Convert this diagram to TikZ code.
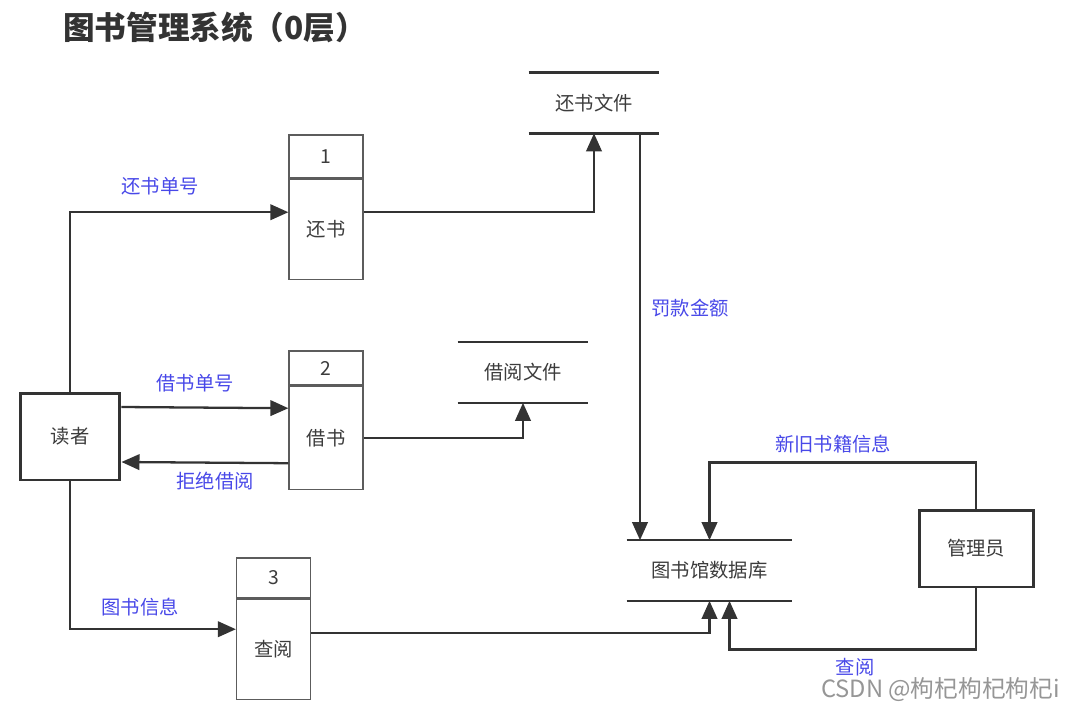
\documentclass[tikz,border=0pt]{standalone}
\usepackage{fontspec}
\setmainfont{Noto Sans CJK SC}
\usetikzlibrary{arrows.meta, positioning, calc}
\definecolor{linegray}{RGB}{51, 51, 51}
\definecolor{textgray}{RGB}{60, 60, 60}
\definecolor{labelblue}{RGB}{72, 72, 232}
\definecolor{markgray}{RGB}{150, 150, 150}

\begin{document}
\begin{tikzpicture}[
    x=0.02cm, y=-0.02cm,
    entitybox/.style={draw=linegray, line width=1.7pt, fill=white, minimum width=2.0cm, minimum height=1.74cm, font=\fontsize{11}{13}\selectfont, text=textgray},
    procnum/.style={draw=linegray!80, line width=0.7pt, minimum width=1.48cm, font=\fontsize{11}{13}\selectfont, text=textgray, inner sep=0pt},
    procbox/.style={draw=linegray!80, line width=0.7pt, minimum width=1.48cm, minimum height=2.0cm, font=\fontsize{11}{13}\selectfont, text=textgray, inner sep=0pt},
    storebox/.style={minimum height=1.2cm, font=\fontsize{11}{13}\selectfont, text=textgray, inner sep=0pt},
    storeline/.style={draw=linegray, line width=1.4pt},
    flowlabel/.style={font=\fontsize{11}{13}\selectfont, text=labelblue},
    arrow/.style={-{Triangle[length=3.6mm, width=3.1mm]}, draw=linegray, line width=1.3pt}
]
\useasboundingbox (0,0) rectangle (1074,716);

% Title
\node (title) [font=\fontsize{18}{20}\selectfont\bfseries, text=linegray, anchor=west] at (57,27) {图书管理系统（0层）};

% External entities
\node (reader) [entitybox] at (70,436.5) {读者};
\node (admin) [entitybox, minimum width=2.28cm, minimum height=1.54cm] at (976,548.5) {管理员};

% Processes
\node (p1num) [procnum, minimum height=0.86cm] at (326,156.5) {1};
\node (p1) [procbox, below=0pt of p1num] {还书};
\node (p2num) [procnum, minimum height=0.68cm] at (326,368) {2};
\node (p2) [procbox, minimum height=2.06cm, below=0pt of p2num] {借书};
\node (p3num) [procnum, minimum height=0.8cm] at (273.5,578) {3};
\node (p3) [procbox, below=0pt of p3num] {查阅};

% Data stores
\node (store1) [storebox, minimum width=2.6cm] at (594,103) {还书文件};
\node (store2) [storebox, minimum width=2.6cm] at (523,372.5) {借阅文件};
\node (db) [storebox, minimum width=3.3cm] at (709.5,570.5) {图书馆数据库};
\foreach \s in {store1, store2, db} {
    \draw [storeline] (\s.north west) -- (\s.north east);
    \draw [storeline] (\s.south west) -- (\s.south east);
}

% Flows
\draw [arrow] (reader.north) |- ([yshift=0.34cm]p1.west);
\draw [arrow] ([yshift=0.59cm]reader.east) -- ([yshift=0.59cm]p2.west);
\draw [arrow] ([yshift=-0.51cm]p2.west) -- ([yshift=-0.51cm]reader.east);
\draw [arrow] (reader.south) |- ([yshift=0.4cm]p3.west);

\draw [arrow] ([yshift=0.34cm]p1.east) -| (store1.south);
\draw [arrow] (p2.east) -| (store2.south);
\draw [arrow] ([xshift=0.92cm]store1.south) -- ([xshift=0.92cm]store1.south |- db.north);

\draw [arrow] (admin.north) -- ++(0,-46) -| (db.north);
\draw [arrow] ([yshift=0.32cm]p3.east) -| (db.south);
\draw [arrow] (admin.south) -- ++(0,61) -| ([xshift=0.4cm]db.south);

% Flow labels
\node (l_return) [flowlabel] at (160,186) {还书单号};
\node (l_borrow) [flowlabel] at (195,383) {借书单号};
\node (l_refuse) [flowlabel] at (215,481) {拒绝借阅};
\node (l_info) [flowlabel] at (140,607) {图书信息};
\node (l_fine) [flowlabel] at (690,308) {罚款金额};
\node (l_books) [flowlabel] at (833,444) {新旧书籍信息};
\node (l_query) [flowlabel] at (855,667) {查阅};

% Watermark
\node (mark) [font=\fontsize{13.5}{15}\selectfont, text=markgray, anchor=east] at (1066,690) {CSDN @枸杞枸杞枸杞i};

\end{tikzpicture}
\end{document}
